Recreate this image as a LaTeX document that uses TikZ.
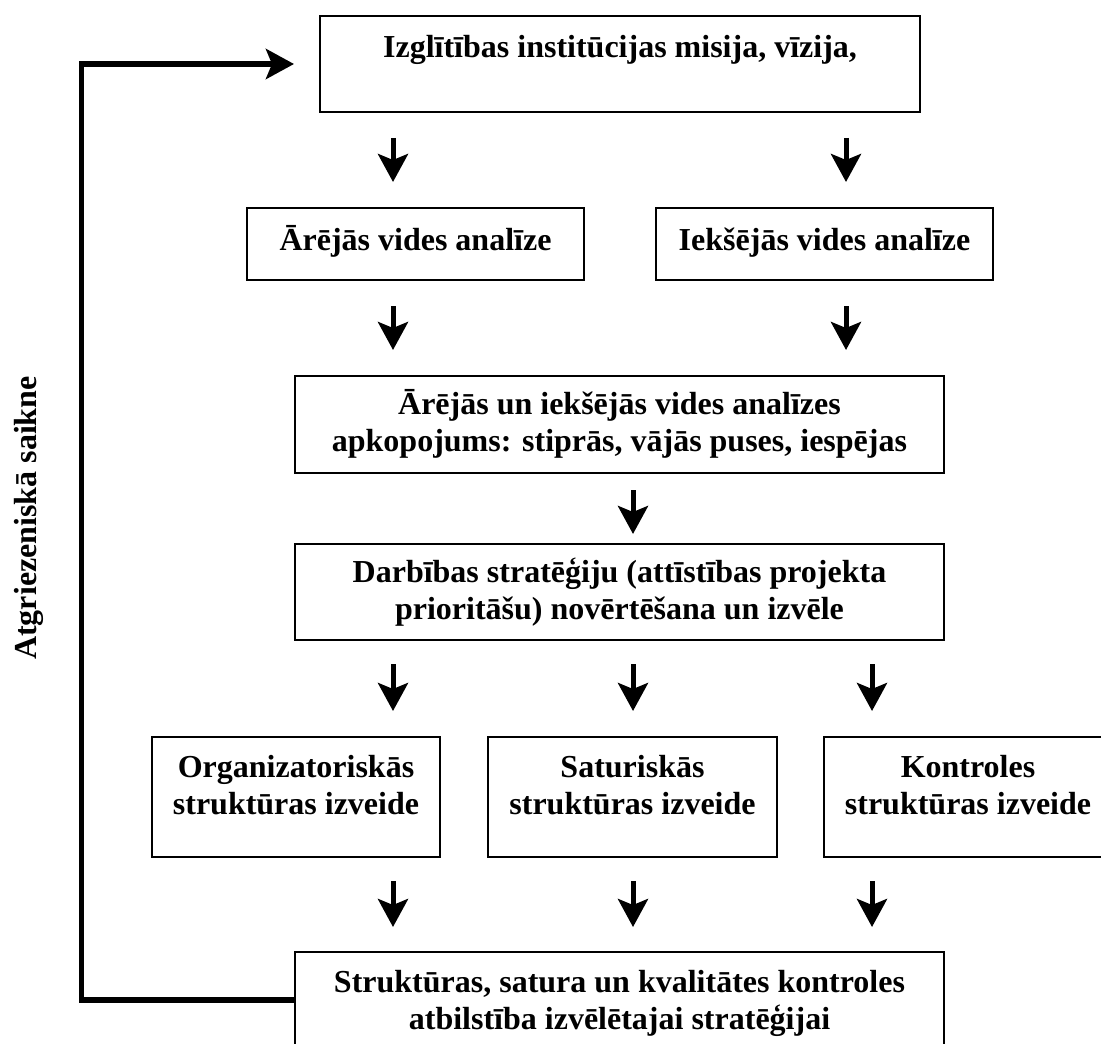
\documentclass[tikz,border=0pt]{standalone}
\usepackage{fontspec}
\setmainfont{Liberation Serif}
\usetikzlibrary{arrows.meta}
\begin{document}
\begin{tikzpicture}[x=0.5pt, y=-0.5pt,
  frame/.style={draw, line width=1pt, inner sep=0pt},
  txt/.style={font=\bfseries\fontsize{16pt}{18.75pt}\selectfont, align=center, inner sep=0pt},
  tip/.tip={Stealth[length=14pt, width=15pt, inset=3pt]},
  arr/.style={line width=2.5pt, -tip},
  fbline/.style={line width=2.75pt, -tip}]
\path[use as bounding box] (0,0) rectangle (1101,1043);
\clip (0,0) rectangle (1101,1043);

% boxes
\node[frame, minimum width=300pt, minimum height=48pt] (top) at (620,64) {};
\node[frame, minimum width=168.5pt, minimum height=36pt] (arej) at (415.5,244) {};
\node[frame, minimum width=168.5pt, minimum height=36pt] (iek) at (824.5,244) {};
\node[frame, minimum width=324.5pt, minimum height=48.5pt] (apkop) at (619.5,424.5) {};
\node[frame, minimum width=324.5pt, minimum height=48pt] (darb) at (619.5,592) {};
\node[frame, minimum width=144pt, minimum height=60pt] (org) at (296,797) {};
\node[frame, minimum width=144.5pt, minimum height=60pt] (sat) at (632.5,797) {};
\node[frame, minimum width=144pt, minimum height=60pt] (kont) at (968,797) {};
\node[frame, minimum width=324.5pt, minimum height=60pt] (bot) at (619.5,1012) {};

% texts (base anchor = baseline of the last line)
\node[txt, anchor=base] (topT) at (620,58) {Izglītības institūcijas misija, vīzija,};
\node[txt, anchor=base] (arejT) at (415.5,250) {Ārējās vides analīze};
\node[txt, anchor=base] (iekT) at (824.5,250) {Iekšējās vides analīze};
\node[txt, anchor=base] (apkopT) at (619.5,451.5) {Ārējās un iekšējās vides analīzes\\apkopojums: stiprās, vājās puses, iespējas};
\node[txt, anchor=base] (darbT) at (619.5,619.5) {Darbības stratēģiju (attīstības projekta\\prioritāšu) novērtēšana un izvēle};
\node[txt, anchor=base] (orgT) at (296,814.5) {Organizatoriskās\\struktūras izveide};
\node[txt, anchor=base] (satT) at (632.5,814.5) {Saturiskās\\struktūras izveide};
\node[txt, anchor=base] (kontT) at (968,814.5) {Kontroles\\struktūras izveide};
\node[txt, anchor=base] (botT) at (619.5,1029.5) {Struktūras, satura un kvalitātes kontroles\\atbilstība izvēlētajai stratēģijai};
\node[txt, anchor=base, rotate=90] (fbT) at (36,518) {Atgriezeniskā saikne};

% arrow columns
\coordinate (cA) at (393,0);
\coordinate (cB) at (846,0);
\coordinate (cC) at (633,0);
\coordinate (cD) at (872,0);

% flow arrows
\draw[arr, shorten <=12.5pt, shorten >=12.5pt] (top.south -| cA) -- (arej.north -| cA);
\draw[arr, shorten <=12.5pt, shorten >=12.5pt] (top.south -| cB) -- (iek.north -| cB);
\draw[arr, shorten <=12.5pt, shorten >=12.5pt] (arej.south -| cA) -- (apkop.north -| cA);
\draw[arr, shorten <=12.5pt, shorten >=12.5pt] (iek.south -| cB) -- (apkop.north -| cB);
\draw[arr, shorten <=8pt, shorten >=4.5pt] (apkop.south -| cC) -- (darb.north -| cC);
\draw[arr, shorten <=11.5pt, shorten >=12.5pt] (darb.south -| cA) -- (org.north -| cA);
\draw[arr, shorten <=11.5pt, shorten >=12.5pt] (darb.south -| cC) -- (sat.north -| cC);
\draw[arr, shorten <=11.5pt, shorten >=12.5pt] (darb.south -| cD) -- (kont.north -| cD);
\draw[arr, shorten <=11.5pt, shorten >=12pt] (org.south -| cA) -- (bot.north -| cA);
\draw[arr, shorten <=11.5pt, shorten >=12pt] (sat.south -| cC) -- (bot.north -| cC);
\draw[arr, shorten <=11.5pt, shorten >=12pt] (kont.south -| cD) -- (bot.north -| cD);

% feedback loop
\coordinate (fbY) at (0,1000);
\coordinate (fbCorner) at (81.5,1000);
\draw[fbline] (bot.west |- fbY) -- (fbCorner) |- ([xshift=-12.5pt]top.west);
\end{tikzpicture}
\end{document}
